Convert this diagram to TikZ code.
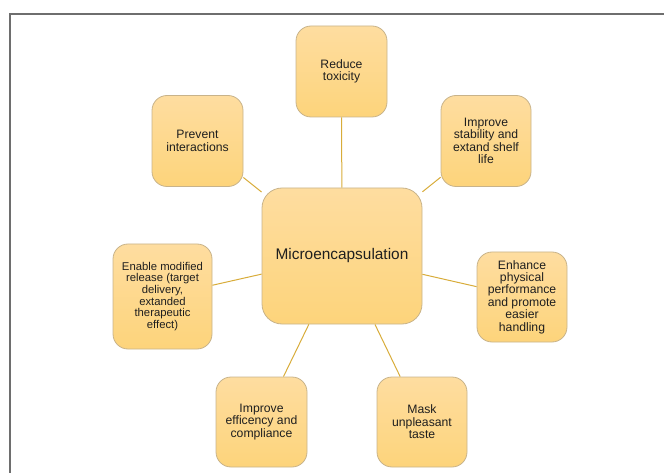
\documentclass[tikz,border=0pt]{standalone}
\usepackage{fontspec}
\setmainfont{Liberation Sans}
\definecolor{boxtop}{HTML}{FEDDA0}
\definecolor{boxbot}{HTML}{FDD47B}
\definecolor{boxline}{HTML}{C8B38A}
\definecolor{linkc}{HTML}{D8AC3A}
\definecolor{framec}{HTML}{6E6E6E}
\tikzset{
  benefit/.style={draw=boxline, line width=0.8pt, rounded corners=15pt,
    top color=boxtop, bottom color=boxbot, inner sep=0pt, align=center,
    minimum width=91pt, minimum height=91pt,
    font=\fontsize{12.2}{12.4}\selectfont, text=black!88},
  link/.style={draw=linkc, line width=1pt},
  frameline/.style={draw=framec, line width=1.6pt}
}
\begin{document}
\begin{tikzpicture}[x=1pt,y=-1pt]
\useasboundingbox (0,0) rectangle (664,473);
\coordinate (fbl) at (10,474);
\coordinate (ftl) at (10,14);
\coordinate (ftr) at (665,14);
\draw[frameline] (fbl) -- (ftl) -- (ftr);

\node[benefit, minimum width=160pt, minimum height=136pt, rounded corners=20pt,
  font=\fontsize{15.4}{18}\selectfont] (c) at (342,256) {Microencapsulation};
\node[benefit] (rt) at (341.5,71.5) {Reduce\\toxicity};
\node[benefit] (pi) at (197.5,141) {Prevent\\interactions};
\node[benefit, minimum width=90pt] (is) at (486,141) {Improve\\stability and\\extand shelf\\life};
\node[benefit, minimum width=99pt, minimum height=105pt,
  font=\fontsize{11.3}{11.7}\selectfont] (em) at (162.5,296.5)
  {Enable modified\\release (target\\delivery,\\extanded\\therapeutic\\effect)};
\node[benefit, minimum width=90pt, minimum height=90pt] (ep) at (522,297)
  {Enhance\\physical\\performance\\and promote\\easier\\handling};
\node[benefit, minimum height=90pt] (ie) at (261.5,422) {Improve\\efficency and\\compliance};
\node[benefit, minimum width=90pt, minimum height=90pt] (mu) at (422,422) {Mask\\unpleasant\\taste};

\draw[link] (c) -- (rt);
\draw[link] (c) -- (pi);
\draw[link] (c) -- (is);
\draw[link] (c) -- (em);
\draw[link] (c) -- (ep);
\draw[link] (c) -- (ie);
\draw[link] (c) -- (mu);
\end{tikzpicture}
\end{document}
